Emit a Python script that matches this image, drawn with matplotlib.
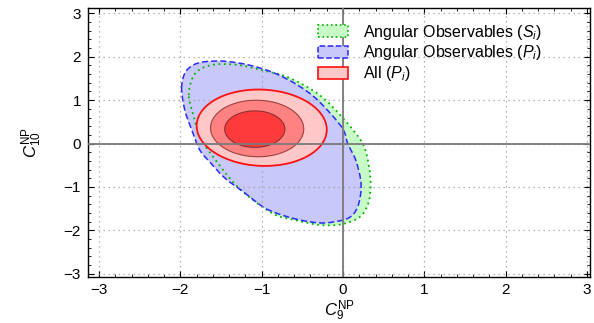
import numpy as np
import matplotlib
matplotlib.use("Agg")
import matplotlib.pyplot as plt
from matplotlib.patches import Patch, PathPatch
from matplotlib.path import Path
from matplotlib.ticker import MultipleLocator

plt.rcParams['font.family'] = ['Liberation Sans', 'DejaVu Sans']
plt.rcParams['mathtext.fontset'] = 'custom'
plt.rcParams['mathtext.rm'] = 'Liberation Sans'
plt.rcParams['mathtext.it'] = 'Liberation Sans:italic'
plt.rcParams['mathtext.bf'] = 'Liberation Sans:bold'

# ===== ANGULAR OBSERVABLES: contour boundaries (C9, C10) =====
si_c9 = [-1.896, -1.846, -1.736, -1.539, -1.269, -0.999, -0.679, -0.286, 0.021,
         0.242, 0.316, 0.340, 0.310, 0.200, -0.030, -0.286, -0.593, -0.876,
         -1.294, -1.613, -1.761, -1.834]
si_c10 = [1.115, 1.529, 1.736, 1.828, 1.805, 1.690, 1.529, 1.115, 0.540,
          0.000, -0.494, -0.954, -1.380, -1.700, -1.862, -1.874, -1.759, -1.598,
          -1.000, -0.264, 0.149, 0.609]

pi_c9 = [-1.985, -1.945, -1.846, -1.699, -1.453, -1.146, -0.839, -0.557, -0.311,
         -0.016, 0.058, 0.156, 0.217, 0.215, 0.165, 0.050, -0.225, -0.471,
         -0.716, -0.962, -1.208, -1.453, -1.638, -1.761, -1.859, -1.945]
pi_c10 = [1.276, 1.621, 1.805, 1.885, 1.897, 1.805, 1.621, 1.345, 1.000,
          0.379, 0.000, -0.379, -0.839, -1.184, -1.520, -1.730, -1.828, -1.782,
          -1.667, -1.483, -1.138, -0.793, -0.425, -0.149, 0.310, 0.770]

# ===== ALL: 1/2/3 sigma (inner -> outer) =====
# centre, half extent along C9 / C10, correlation
all_c9 = [-1.085, -1.056, -1.000]
all_c10 = [0.333, 0.348, 0.365]
all_half_c9 = [0.37, 0.573, 0.80]
all_half_c10 = [0.42, 0.651, 0.88]
all_rho = [0.0, -0.02, -0.05]

labels = [r"Angular Observables ($S_i$)",
          r"Angular Observables ($P_i$)",
          r"All ($P_i$)"]
ticks = [-3, -2, -1, 0, 1, 2, 3]


def closed_path(xs, ys):
    # smooth closed curve through the points (Catmull-Rom as cubic Bezier)
    p = np.column_stack([xs, ys])
    n = len(p)
    verts = [p[0]]
    codes = [Path.MOVETO]
    for i in range(n):
        p0, p1, p2, p3 = p[i - 1], p[i], p[(i + 1) % n], p[(i + 2) % n]
        verts += [p1 + (p2 - p0) / 6, p2 - (p3 - p1) / 6, p2]
        codes += [Path.CURVE4] * 3
    return Path(verts, codes)


def ellipse(centre, half, rho, n=400):
    t = np.linspace(0, 2*np.pi, n)
    x = centre[0] + half[0]*np.cos(t)
    y = centre[1] + half[1]*(rho*np.cos(t) + np.sqrt(1 - rho**2)*np.sin(t))
    return x, y


fig = plt.figure(figsize=(5.94, 3.23), dpi=100)
ax = fig.add_axes([88/594, 1 - 277.3/323, 502/594, 269.6/323])

si_path = closed_path(si_c9, si_c10)
pi_path = closed_path(pi_c9, pi_c10)
ax.add_patch(PathPatch(si_path, facecolor='#c8fac8', lw=0, zorder=1))
ax.add_patch(PathPatch(pi_path, facecolor='#c8c8fa', lw=0, zorder=1.2))
ax.add_patch(PathPatch(si_path, fill=False, edgecolor='#00b400', ls=(0, (1, 2)), lw=1.3, zorder=2))
ax.add_patch(PathPatch(pi_path, fill=False, edgecolor='#2a2aff', ls=(0, (4, 2)), lw=1.1, zorder=2))

fills = ['#ff3a3a', '#ff8282', '#ffc8c8']
edges = ['#8a3030', '#9a4040', '#ff1010']
widths = [0.8, 0.8, 1.3]
for i in [2, 1, 0]:
    x, y = ellipse((all_c9[i], all_c10[i]), (all_half_c9[i], all_half_c10[i]), all_rho[i])
    ax.fill(x, y, facecolor=fills[i], edgecolor=edges[i], lw=widths[i], zorder=3 + (2 - i)*0.1)

ax.axhline(0, color='#7a7a7a', lw=1.3, zorder=5)
ax.axvline(0, color='#7a7a7a', lw=1.3, zorder=5)

ax.set_xlim(-3.136, 3.037)
ax.set_ylim(-3.08, 3.13)
ax.set_xticks(ticks)
ax.set_yticks(ticks)
ax.xaxis.set_minor_locator(MultipleLocator(0.2))
ax.yaxis.set_minor_locator(MultipleLocator(0.2))
ax.tick_params(which='both', direction='in', top=True, right=True, labelsize=11, colors='black')
ax.tick_params(which='major', length=4.5, width=0.8)
ax.tick_params(which='minor', length=2.5, width=0.6)
ax.tick_params(axis='x', pad=4)
ax.tick_params(axis='y', pad=5)
ax.set_axisbelow(False)
ax.grid(True, which='major', ls=(0, (1, 3)), color='#a0a0a0', lw=0.9)
for s in ax.spines.values():
    s.set_linewidth(1.0)

ax.set_xlabel(r"$C_9^{\rm NP}$", fontsize=12, labelpad=1)
ax.set_ylabel(r"$C_{10}^{\rm NP}$", fontsize=12, labelpad=14)

handles = [Patch(facecolor='#c8fac8', edgecolor='#00b400', ls=':', lw=1.2),
           Patch(facecolor='#c8c8fa', edgecolor='#2a2aff', ls='--', lw=1.1),
           Patch(facecolor='#ffc8c8', edgecolor='#ff1010', lw=1.2)]
leg = ax.legend(handles, labels, loc='upper left', bbox_to_anchor=(0.458, 0.945),
                frameon=False, fontsize=11.5, borderpad=0, borderaxespad=0,
                handlelength=1.9, handleheight=0.75, handletextpad=0.9, labelspacing=0.12)
leg.set_zorder(10)

fig.savefig("out.png", dpi=100)
